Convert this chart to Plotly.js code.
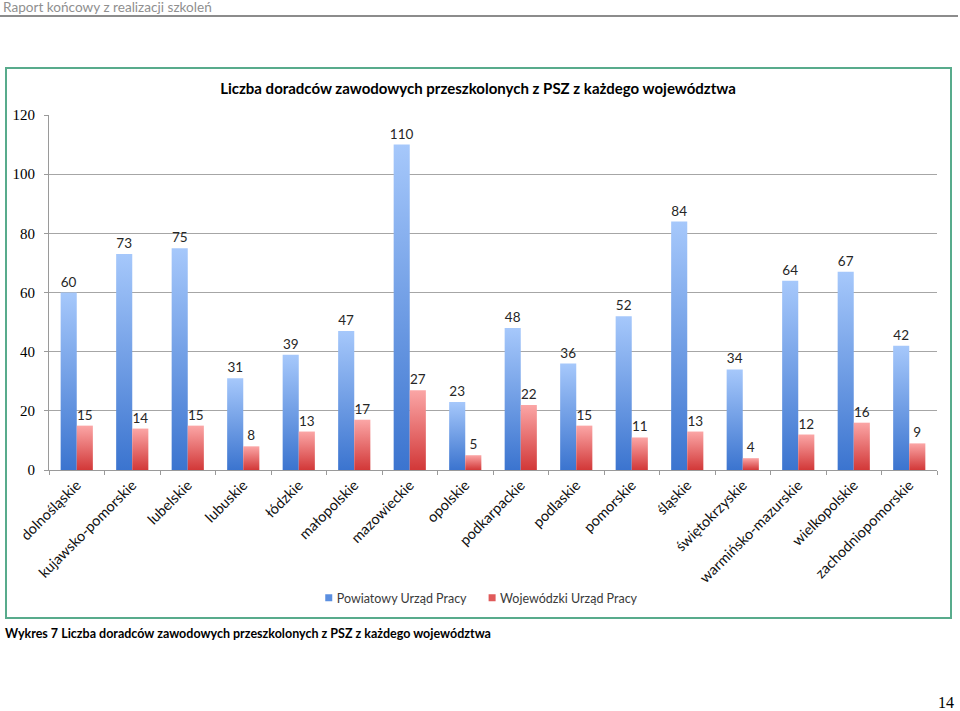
<!DOCTYPE html>
<html>
<head>
<meta charset="utf-8">
<script src="https://cdn.plot.ly/plotly-3.0.1.min.js"></script>
<style>
  html, body { margin:0; padding:0; background:#fff; }
  #page { position:relative; width:960px; height:711px; overflow:hidden; background:#fff; }
  #header { position:absolute; left:3px; top:-1px; font-family:Lato, "Noto Sans", sans-serif; font-size:13.6px; color:#8f8f8f; }
  #hline { position:absolute; left:0; top:15px; width:958px; height:2px; background:#8c8c8c; }
  #frame { position:absolute; left:5px; top:67px; width:947px; height:552px; box-sizing:border-box; border:2px solid #58ab8c; pointer-events:none; }
  #chart { position:absolute; left:5px; top:67px; width:946px; height:551px; }
  #caption { position:absolute; left:5px; top:626px; font-family:Lato, "Noto Sans", sans-serif; font-weight:bold; font-size:12.5px; color:#000; }
  #pnum { position:absolute; left:938px; top:694px; font-family:"Liberation Serif", serif; font-size:16px; color:#000; }
</style>
</head>
<body>
<div id="page">
  <div id="header">Raport końcowy z realizacji szkoleń</div>
  <div id="hline"></div>
  <div id="chart"></div>
  <div id="frame"></div>
  <div id="caption">Wykres 7 Liczba doradców zawodowych przeszkolonych z PSZ z każdego województwa</div>
  <div id="pnum">14</div>
</div>
<script>
const categories = ["dolnośląskie","kujawsko-pomorskie","lubelskie","lubuskie","łódzkie","małopolskie","mazowieckie","opolskie","podkarpackie","podlaskie","pomorskie","śląskie","świętokrzyskie","warmińsko-mazurskie","wielkopolskie","zachodniopomorskie"];
const powiatowy = [60,73,75,31,39,47,110,23,48,36,52,84,34,64,67,42];
const wojewodzki = [15,14,15,8,13,17,27,5,22,15,11,13,4,12,16,9];
const seriesNames = ["Powiatowy Urząd Pracy","Wojewódzki Urząd Pracy"];
const yTicks = [0,20,40,60,80,100,120];

const sans = "Lato, 'Noto Sans', sans-serif";
const serif = "'Liberation Serif', serif";
const solidColors = ['#5b8fe0','#e05a5a'];

const traces = [
  {type:'bar', name:seriesNames[0], x:categories, y:powiatowy, marker:{color:solidColors[0]},
   text:powiatowy.map(String), textposition:'outside', constraintext:'none', cliponaxis:false,
   textfont:{family:sans, size:13.5, color:'#262626'}, hoverinfo:'none'},
  {type:'bar', name:seriesNames[1], x:categories, y:wojewodzki, marker:{color:solidColors[1]},
   text:wojewodzki.map(String), textposition:'outside', constraintext:'none', cliponaxis:false,
   textfont:{family:sans, size:13.5, color:'#262626'}, hoverinfo:'none'}
];

const layout = {
  width:946, height:551,
  margin:{l:44, r:14, t:48, b:148, autoexpand:false},
  paper_bgcolor:'rgba(0,0,0,0)', plot_bgcolor:'#fff',
  barmode:'group', bargap:0.42, bargroupgap:0,
  showlegend:true,
  title:{text:'<b>Liczba doradców zawodowych przeszkolonych z PSZ z każdego województwa</b>',
         font:{family:sans, size:15, color:'#000'}, x:0.5, xanchor:'center', y:1-22/551, yref:'container', yanchor:'middle'},
  legend:{orientation:'h', x:0.279, xanchor:'left', xref:'paper', y:1-531/551, yref:'container', yanchor:'middle',
          font:{family:sans, size:12.5, color:'#3a3a3a'}, itemwidth:30, traceorder:'normal'},
  xaxis:{type:'category', tickangle:-45, tickfont:{family:sans, size:14.5, color:'#111'}, automargin:false,
         showline:true, linecolor:'#9a9a9a', linewidth:1, ticks:'outside', tickson:'boundaries',
         ticklen:4, tickcolor:'#9a9a9a', showgrid:false, fixedrange:true},
  yaxis:{range:[0,120], tickvals:yTicks, ticktext:yTicks.map(String), tickfont:{family:serif, size:15, color:'#000'},
         automargin:false,
         showline:true, linecolor:'#9a9a9a', linewidth:1, ticks:'outside', ticklen:4, tickcolor:'#9a9a9a',
         showgrid:true, gridcolor:'#a6a6a6', gridwidth:1, zeroline:false, fixedrange:true, ticklabelstandoff:6}
};

const gd = document.getElementById('chart');
const gradStops = [
  [['0%','#a6c8fb'],['100%','#3b74cf']],
  [['0%','#fba6a6'],['100%','#d23838']]
];
function applyStyling(){
  const svg = gd.querySelector('svg.main-svg');
  if(!svg) return;
  let defs = svg.querySelector('defs');
  if(!defs){ defs = document.createElementNS('http://www.w3.org/2000/svg','defs'); svg.insertBefore(defs, svg.firstChild); }
  gradStops.forEach((stops,i)=>{
    const id = 'barGrad'+i;
    if(!document.getElementById(id)){
      const lg = document.createElementNS('http://www.w3.org/2000/svg','linearGradient');
      lg.setAttribute('id', id);
      lg.setAttribute('x1','0'); lg.setAttribute('y1','0'); lg.setAttribute('x2','0'); lg.setAttribute('y2','1');
      stops.forEach(s=>{
        const st = document.createElementNS('http://www.w3.org/2000/svg','stop');
        st.setAttribute('offset', s[0]); st.setAttribute('stop-color', s[1]);
        lg.appendChild(st);
      });
      defs.appendChild(lg);
    }
  });
  gd.querySelectorAll('.barlayer .trace').forEach((tr,i)=>{
    tr.querySelectorAll('.point path').forEach(p=>{ p.style.fill = 'url(#barGrad'+i+')'; });
  });
  // smaller legend squares placed next to the text, items a bit closer, as in the reference
  gd.querySelectorAll('.legend .traces').forEach((t,i)=>{
    t.querySelectorAll('.legendpoints path').forEach(p=>{
      p.setAttribute('d','M3.5,3.5H-3.5V-3.5H3.5Z');
      p.setAttribute('transform','translate(32,0)');
      p.style.strokeWidth = '0';
    });
    if(i === 1 && !t.dataset.shifted){
      const tf = t.getAttribute('transform') || '';
      const m = tf.match(/translate\(\s*([-\d.]+)[ ,]+([-\d.]+)\s*\)/);
      if(m){
        t.setAttribute('transform','translate(' + (parseFloat(m[1]) - 12) + ',' + m[2] + ')');
        t.dataset.shifted = '1';
      }
    }
  });
}
Plotly.newPlot(gd, traces, layout, {displayModeBar:false, staticPlot:true}).then(()=>{
  applyStyling();
  gd.on && gd.on('plotly_afterplot', applyStyling);
});
</script>
</body>
</html>
